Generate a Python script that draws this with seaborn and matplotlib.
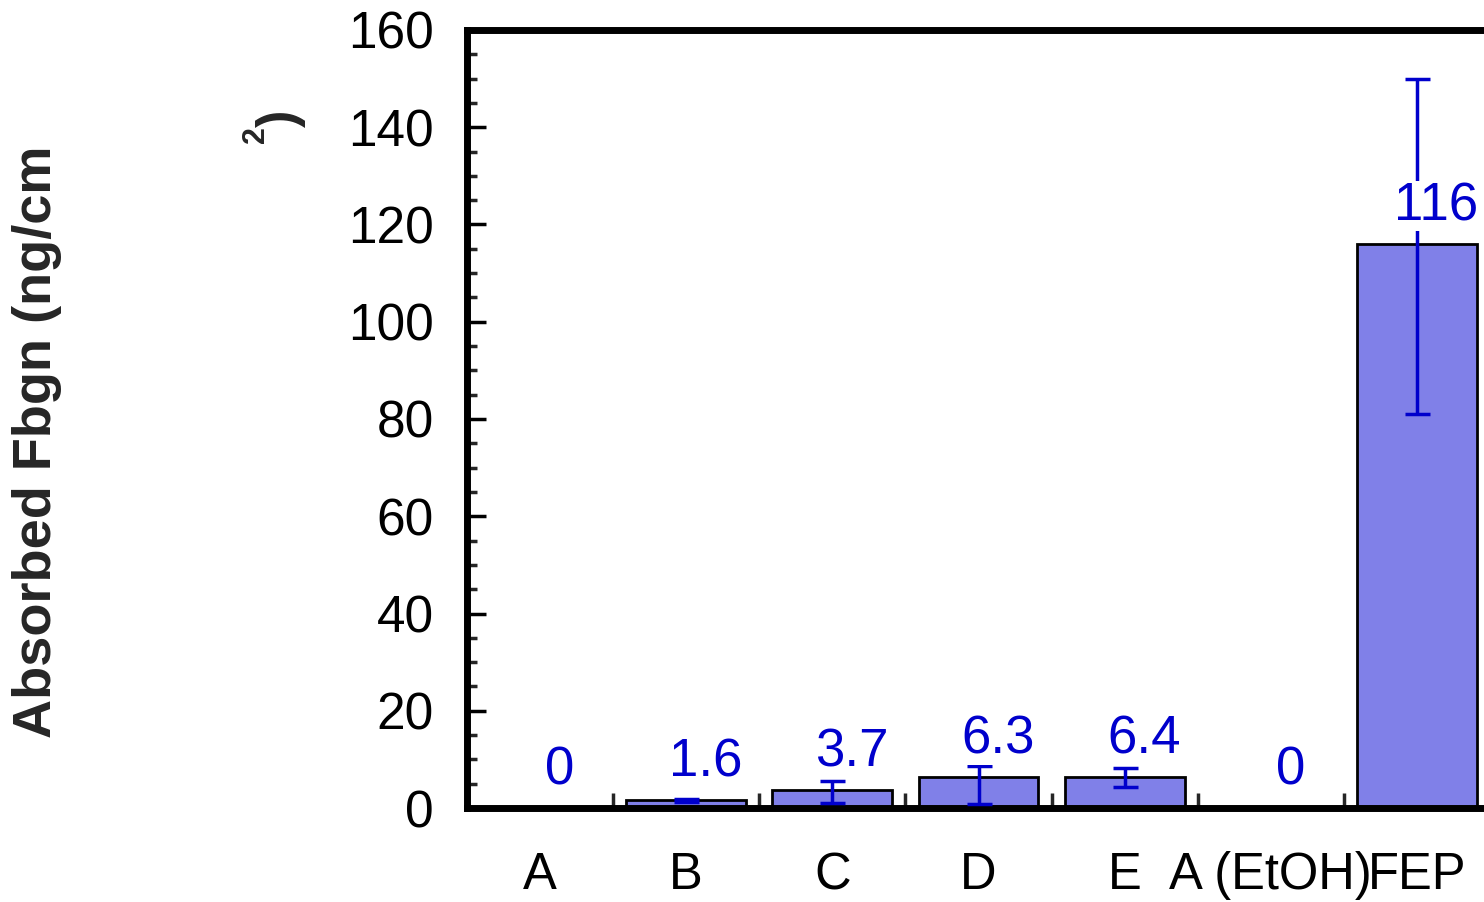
import numpy as np
import pandas as pd
import matplotlib
matplotlib.use("Agg")
import matplotlib.pyplot as plt
from matplotlib.ticker import MultipleLocator, FixedLocator
import seaborn as sns

# Adsorbed fibrinogen per surface (ng/cm^2)
categories = ["A", "B", "C", "D", "E", "A (EtOH)", "FEP"]
values = [0, 1.6, 3.7, 6.3, 6.4, 0, 116]
value_labels = ["0", "1.6", "3.7", "6.3", "6.4", "0", "116"]
# error bar ends (lower, upper); None where no error bar is shown
err_lower = [None, 1.3, 1.0, 0.9, 4.4, None, 81]
err_upper = [None, 1.9, 5.6, 8.6, 8.2, None, 150]

sns.set_theme(style="white")
plt.rcParams["font.family"] = ["Liberation Sans", "DejaVu Sans"]

W, H = 1484, 902
fig = plt.figure(figsize=(W / 100, H / 100), dpi=100)
ax_left, ax_right, ax_top, ax_bottom = 467, 1490, 30, 808
ax = fig.add_axes([ax_left / W, 1 - ax_bottom / H,
                   (ax_right - ax_left) / W, (ax_bottom - ax_top) / H])

df = pd.DataFrame({"surface": categories, "value": values})
sns.barplot(data=df, x="surface", y="value", color="#8080E8", saturation=1,
            errorbar=None, width=0.82, edgecolor="black", linewidth=2, ax=ax,
            zorder=2)

xs = np.arange(len(categories))
blue = "#0000CC"
for i, (lo, hi, v) in enumerate(zip(err_lower, err_upper, values)):
    if lo is None:
        continue
    ax.errorbar(xs[i], v, yerr=[[v - lo], [hi - v]], fmt="none", ecolor=blue,
                elinewidth=2.5, capsize=9, capthick=2.5, zorder=3)

for i, (v, lab) in enumerate(zip(values, value_labels)):
    ax.annotate(lab, xy=(xs[i], v), xytext=(14, 27), textcoords="offset points",
                ha="center", va="center", fontsize=38, color=blue, zorder=4,
                bbox=dict(boxstyle="square,pad=0", facecolor="white",
                          edgecolor="none"))

ax.set_xlim(-0.5, len(categories) - 0.5)
ax.set_ylim(0, 160)
ax.yaxis.set_major_locator(MultipleLocator(20))
ax.yaxis.set_minor_locator(MultipleLocator(5))
ax.xaxis.set_minor_locator(FixedLocator(np.arange(0.5, len(categories) - 1, 1.0)))

for side in ["left", "bottom", "top"]:
    ax.spines[side].set_visible(True)
    ax.spines[side].set_linewidth(5)
    ax.spines[side].set_color("black")
ax.spines["right"].set_visible(False)

ax.tick_params(axis="y", which="major", direction="in", length=14, width=2.5,
               labelsize=37, pad=24, left=True, right=False, colors="black")
ax.tick_params(axis="y", which="minor", direction="in", length=7, width=2.5,
               left=True, right=False)
ax.tick_params(axis="x", which="major", length=0, labelsize=36.5, pad=31,
               bottom=True, colors="black")
ax.tick_params(axis="x", which="minor", direction="in", length=11, width=2.5,
               bottom=True, top=False)
ax.set_xlabel("")
ax.set_ylabel("")

# Y-axis title, with the "2)" part set apart near the top
fig.text(37 / W, 1 - 442 / H, "Absorbed Fbgn (ng/cm", rotation=90,
         ha="center", va="center", fontsize=39, fontweight="bold")
fig.text(281 / W, 1 - 118 / H, ")", rotation=90, ha="center", va="center",
         fontsize=38, fontweight="bold")
fig.text(256 / W, 1 - 135 / H, "2", rotation=90, ha="center", va="center",
         fontsize=22, fontweight="bold")

fig.savefig("out.png", dpi=100)
